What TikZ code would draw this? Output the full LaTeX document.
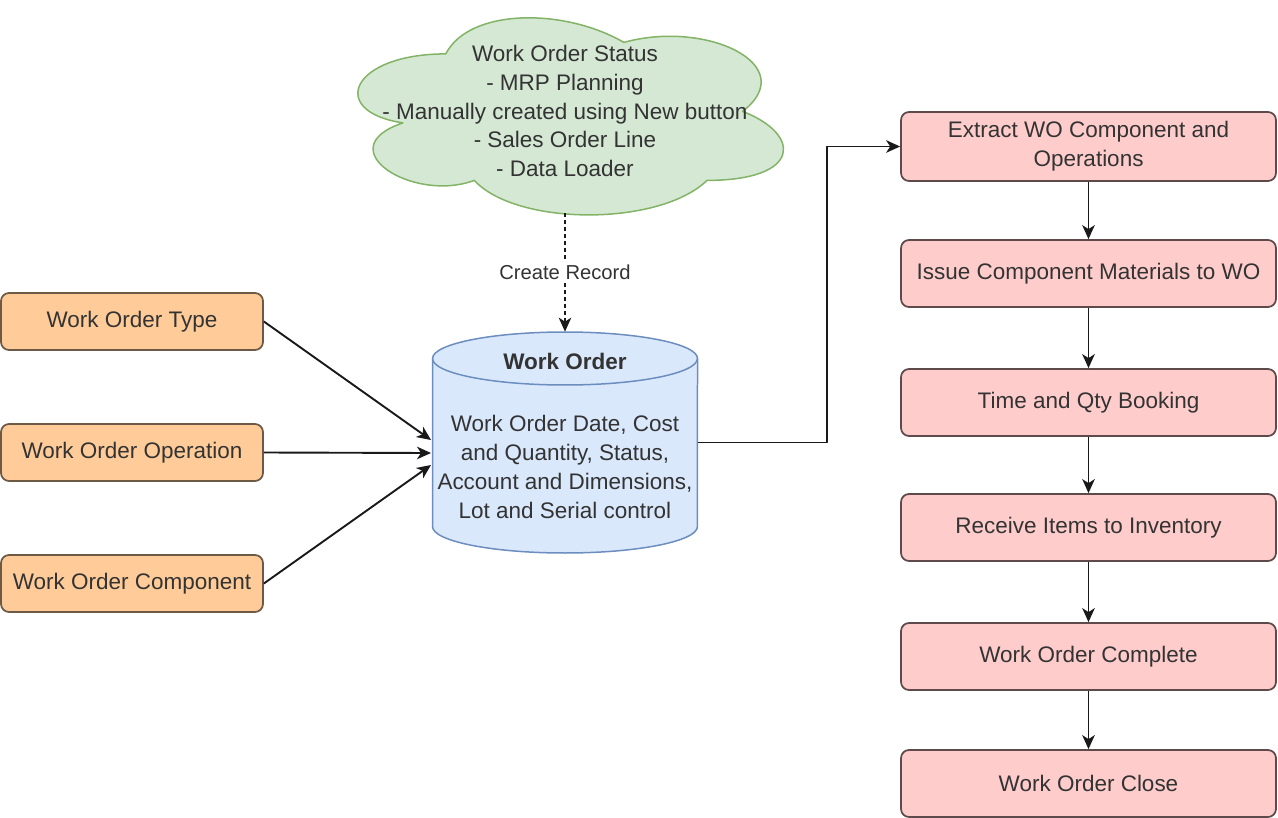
\documentclass[tikz,border=0pt]{standalone}
\usepackage{fontspec}
\setmainfont{Liberation Sans}
\usetikzlibrary{arrows.meta,positioning}
\definecolor{txtgray}{HTML}{333333}
\definecolor{orangefill}{HTML}{FFCC99}
\definecolor{orangeline}{HTML}{6D5A45}
\definecolor{pinkfill}{HTML}{FFCCCC}
\definecolor{pinkline}{HTML}{5E4A4A}
\definecolor{bluefill}{HTML}{DAE8FC}
\definecolor{blueline}{HTML}{6C8EBF}
\definecolor{greenfill}{HTML}{D5E8D4}
\definecolor{greenline}{HTML}{82B366}
\tikzset{
  srcbox/.style={draw=orangeline,fill=orangefill,line width=0.035cm,rounded corners=0.16cm,
    minimum width=5.24cm,minimum height=1.14cm,text=txtgray},
  stepbox/.style={draw=pinkline,fill=pinkfill,line width=0.035cm,rounded corners=0.16cm,
    minimum width=7.5cm,minimum height=1.34cm,text=txtgray,align=center},
  flow/.style={draw=black!90,line width=0.038cm,-{Stealth[length=0.28cm,width=0.25cm,inset=0.08cm]}},
}
\begin{document}
\begin{tikzpicture}[x=0.02cm,y=-0.02cm,font=\fontsize{12.8}{16.4}\selectfont,line join=round]
  \useasboundingbox (0,0) rectangle (1278,818);
  % cloud of work order sources
  \begin{scope}[shift={(327,-3.6)},xscale=475,yscale=230]
    \filldraw[draw=greenline,fill=greenfill,line width=0.03cm]
      (0.25,0.25) .. controls (0.05,0.25) and (0,0.5) .. (0.16,0.55)
      .. controls (0,0.66) and (0.18,0.9) .. (0.31,0.8)
      .. controls (0.4,1) and (0.7,1) .. (0.8,0.8)
      .. controls (1,0.8) and (1,0.6) .. (0.875,0.5)
      .. controls (1,0.3) and (0.8,0.1) .. (0.625,0.2)
      .. controls (0.5,0.05) and (0.3,0.05) .. (0.25,0.25) -- cycle;
  \end{scope}
  \node[align=center,text=txtgray] (statustext) at (565,111) {Work Order Status\\- MRP Planning\\- Manually created using New button\\- Sales Order Line\\- Data Loader};
  \coordinate (cloudbase) at (565,213);
  % work order record
  \node[minimum width=5.3cm,minimum height=4.42cm,inner sep=0pt] (wo) at (565,442.5) {};
  \filldraw[draw=blueline,fill=bluefill,line width=0.03cm]
    (432.5,358.5) -- (432.5,526.5) arc[start angle=180,end angle=360,x radius=2.65cm,y radius=0.53cm]
    -- (697.5,358.5) arc[start angle=0,end angle=180,x radius=2.65cm,y radius=0.53cm] -- cycle;
  \draw[blueline,line width=0.03cm] (432.5,358.5) arc[start angle=180,end angle=360,x radius=2.65cm,y radius=0.53cm];
  \node[font=\fontsize{12.8}{16.4}\selectfont\bfseries,text=txtgray] (wotitle) at (565,361) {Work Order};
  \node[align=center,text=txtgray] (wobody) at (565,467) {Work Order Date, Cost\\and Quantity, Status,\\Account and Dimensions,\\Lot and Serial control};
  % inputs
  \node[srcbox] (type) at (132,321.5) {Work Order Type};
  \node[srcbox] (oper) at (132,452.5) {Work Order Operation};
  \node[srcbox] (comp) at (132,583.5) {Work Order Component};
  \coordinate (intype) at (431,440);
  \coordinate (inoper) at (431,453);
  \coordinate (incomp) at (431,465);
  % process steps
  \node[stepbox,minimum height=1.38cm] (extract) at (1088.5,146.5) {Extract WO Component and\\Operations};
  \node[stepbox] (issue) at (1088.5,273.5) {Issue Component Materials to WO};
  \node[stepbox] (booking) at (1088.5,402.5) {Time and Qty Booking};
  \node[stepbox] (receive) at (1088.5,527.5) {Receive Items to Inventory};
  \node[stepbox] (complete) at (1088.5,656.5) {Work Order Complete};
  \node[stepbox] (close) at (1088.5,783.5) {Work Order Close};
  % connectors
  \draw[flow,dash pattern=on 0.08cm off 0.06cm] (cloudbase) -- (wo.north)
    node[midway,fill=white,text=txtgray,inner sep=2pt,font=\fontsize{11.5}{13}\selectfont] {Create Record};
  \draw[flow] (type.east) -- (intype);
  \draw[flow] (oper.east) -- (inoper);
  \draw[flow] (comp.east) -- (incomp);
  \draw[flow] (wo.east) -- ++(129,0) |- (extract.west);
  \foreach \a/\b in {extract/issue,issue/booking,booking/receive,receive/complete,complete/close}
    \draw[flow] (\a) -- (\b);
\end{tikzpicture}
\end{document}
